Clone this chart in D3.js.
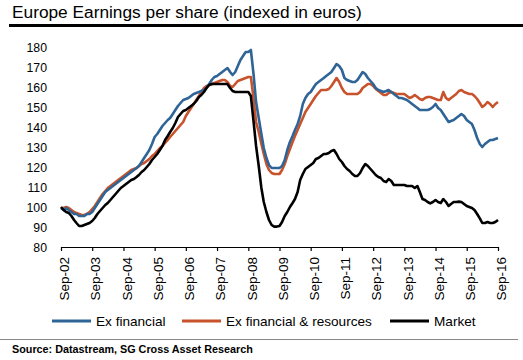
<!DOCTYPE html>
<html>
<head>
<meta charset="utf-8">
<script src="https://cdn.jsdelivr.net/npm/d3@7"></script>
<style>
  html, body { margin: 0; padding: 0; background: #fff; }
  svg { display: block; font-family: "Liberation Sans", Arial, sans-serif; }
</style>
</head>
<body>
<svg id="chart" width="523" height="360"></svg>
<script>
// Monthly series starting Sep-2002
const startMonth = "2002-09";
const tickLabels = ["Sep-02","Sep-03","Sep-04","Sep-05","Sep-06","Sep-07","Sep-08","Sep-09","Sep-10","Sep-11","Sep-12","Sep-13","Sep-14","Sep-15","Sep-16"];
const yTicks = [80, 90, 100, 110, 120, 130, 140, 150, 160, 170, 180];

const exFinancial = [
  100, 99, 100, 99, 98, 97, 97, 96, 96, 96, 97, 97,
  98, 100, 102, 104, 106, 108, 109, 110, 111, 112, 113, 114,
  115, 116, 117, 118, 119, 120, 121, 123, 125, 127, 129, 132,
  135.5, 137, 139, 141, 142.5, 144, 145, 147, 149, 151, 152.5, 154,
  154.5, 155, 156, 157, 157.5, 158, 158.5, 159, 160, 162, 164, 165.5,
  166, 167, 168, 169, 170, 168, 166.5, 168, 171, 174, 176, 178,
  178, 179, 167, 153, 145, 137, 130, 125, 121.5, 120, 120, 120,
  120, 121, 124, 129, 133, 136, 139, 142, 146, 152, 155, 157,
  158, 160, 162, 163, 164, 165, 166, 167, 168, 170, 172, 171,
  169, 165, 164, 163.5, 163, 163, 164, 166, 168, 167, 165, 163.5,
  162, 160, 159, 158.5, 158, 158.5, 159, 158, 157, 156, 155, 155,
  154.5, 154, 153, 152, 151, 150, 149, 149, 149, 149, 149.5, 150.5,
  152, 150, 149, 147, 145, 143, 143.5, 144, 145, 146, 147, 146,
  144, 143, 142, 139, 135, 132, 130.5, 132, 133, 134, 134, 134.5, 135
];
const exFinancialResources = [
  100, 100, 100.5, 100, 99, 98, 97.5, 97, 96.5, 96.5, 97, 98,
  99.5, 101, 103, 105, 107, 108.5, 110, 111, 112, 113, 114, 115,
  116, 117, 118, 119, 119.5, 120, 121, 122, 122.5, 123.5, 124.5, 126,
  127, 128.5, 130, 131, 132.5, 134, 135.5, 137, 138.5, 140, 141.5, 143,
  146, 148, 150, 152, 154, 156, 158, 160, 161, 161.5, 162, 162.5,
  163, 163.5, 164, 164, 163, 161, 160.5, 162, 163.5, 164, 164.5, 165,
  165.5, 165.5, 155, 143, 138, 132, 127, 122, 119, 117.5, 117, 117,
  117, 119, 122, 126, 129.5, 133, 136, 139, 142, 145, 148, 150,
  152, 154, 156, 157.5, 159, 159, 159, 159.5, 161, 163, 165, 163,
  160, 158, 157, 157, 157, 157, 157, 158, 160, 161, 162, 162,
  161, 159.5, 158.5, 157.5, 156.5, 156.5, 157.5, 158, 157.5, 157, 157, 157,
  157, 156, 155, 155.5, 156.5, 155.5, 154.5, 154, 155, 155.5, 155.5, 155,
  154.5, 154, 154, 158, 155, 154, 155, 156, 157, 158.5, 159, 158,
  157.5, 157, 157, 156, 154.5, 152.5, 150.5, 151.5, 153, 152, 150.5, 152, 153
];
const market = [
  100.5, 99, 98, 97.5, 96, 94, 92.5, 91, 91, 91.5, 92, 92.5,
  93.5, 95, 97, 98.5, 100, 101.5, 102.5, 104, 105.5, 107, 108.5, 110,
  111, 112, 113, 114, 114.5, 115.5, 116.5, 118, 119, 120.5, 122, 124,
  125.5, 127, 129, 131, 134, 136, 138, 140, 142.5, 145.5, 147, 148.5,
  149, 150, 151, 152, 153.5, 155.5, 156.5, 158, 160, 161.5, 162, 162,
  162, 162, 162, 162, 162, 160, 158.5, 158, 158, 158, 158, 158,
  158, 156, 143.5, 131, 121, 110, 103, 98, 94, 91.5, 90.7, 90.7,
  91, 93, 96, 98, 100.5, 102.5, 104.5, 108, 114, 117, 119.5, 120.5,
  121.5, 122.5, 124.5, 125, 126, 127, 127, 127.5, 128.5, 129, 127, 124.5,
  123, 121, 119.5, 118.5, 117, 116, 116, 117.5, 120, 122, 121, 119.5,
  118, 116.5, 115.5, 115, 113.5, 113, 114.5, 113.5, 111.5, 111.5, 111.5, 111.5,
  111.5, 111, 111, 111, 110, 111, 108, 104.5, 104, 103, 102.3, 103,
  104, 103, 102.5, 104.5, 103, 101, 102, 103, 103, 103.2, 103, 102,
  101, 100.5, 100, 99, 97, 94.8, 92.5, 92.5, 93, 92.5, 92.5, 93, 94
];

const seriesNames = ["Ex financial", "Ex financial & resources", "Market"];
const seriesColors = ["#2f6496", "#c8522b", "#000000"];

const svg = d3.select("#chart");

const t0 = d3.timeParse("%Y-%m")(startMonth);
const dateAt = i => d3.timeMonth.offset(t0, i);

const x = d3.scaleTime()
  .domain([t0, d3.timeMonth.offset(t0, 168)])
  .range([61, 498]);
const y = d3.scaleLinear().domain([80, 180]).range([248, 48]);

// Title
svg.append("text").attr("x", 12).attr("y", 18)
  .attr("font-size", 17.3).attr("fill", "#000")
  .text("Europe Earnings per share (indexed in euros)");
svg.append("line").attr("x1", 9).attr("x2", 523).attr("y1", 25.5).attr("y2", 25.5)
  .attr("stroke", "#000").attr("stroke-width", 3);

// Y axis labels
svg.append("g").selectAll("text").data(yTicks).join("text")
  .attr("x", 47).attr("y", d => y(d)).attr("dy", "0.35em")
  .attr("text-anchor", "end").attr("font-size", 12.3).attr("fill", "#000")
  .text(d => d);

// X axis
const tickDates = tickLabels.map((_, i) => d3.timeYear.offset(t0, i));
const xAxis = d3.axisBottom(x).tickValues(tickDates)
  .tickFormat((d, i) => tickLabels[i]).tickSize(4).tickSizeOuter(0);
const gx = svg.append("g").attr("transform", "translate(0,247)").call(xAxis);
gx.select(".domain").attr("stroke", "#000").attr("stroke-width", 1.2);
gx.selectAll(".tick line").attr("stroke", "#000").attr("stroke-width", 1.2);
gx.selectAll(".tick text")
  .attr("font-size", 13.5).attr("fill", "#000")
  .attr("font-family", "Liberation Sans, Arial, sans-serif")
  .attr("text-anchor", "end")
  .attr("transform", "rotate(-90)")
  .attr("x", -10).attr("y", 3).attr("dy", "0.35em");

// Lines
const line = d3.line().x((d, i) => x(dateAt(i))).y(d => y(d));
const data = [exFinancialResources, exFinancial, market];
const colors = [seriesColors[1], seriesColors[0], seriesColors[2]];
svg.append("g").selectAll("path").data(data).join("path")
  .attr("d", d => line(d))
  .attr("fill", "none")
  .attr("stroke", (d, i) => colors[i])
  .attr("stroke-width", 2.6)
  .attr("stroke-linejoin", "round");

// Legend
const legendX = [52, 182, 390];
const lg = svg.append("g").selectAll("g").data(seriesNames).join("g")
  .attr("transform", (d, i) => `translate(${legendX[i]},321)`);
lg.append("line").attr("x1", 0).attr("x2", 39).attr("y1", 0).attr("y2", 0)
  .attr("stroke", (d, i) => seriesColors[i]).attr("stroke-width", 3);
lg.append("text").attr("x", 44).attr("y", 0).attr("dy", "0.35em")
  .attr("font-size", 13.6).attr("fill", "#000").text(d => d);

// Separator & source
svg.append("line").attr("x1", 0).attr("x2", 518).attr("y1", 339.5).attr("y2", 339.5)
  .attr("stroke", "#888").attr("stroke-width", 1);
svg.append("text").attr("x", 12).attr("y", 353)
  .attr("font-size", 10.8).attr("font-weight", "bold").attr("fill", "#000")
  .text("Source: Datastream, SG Cross Asset Research");
</script>
</body>
</html>
